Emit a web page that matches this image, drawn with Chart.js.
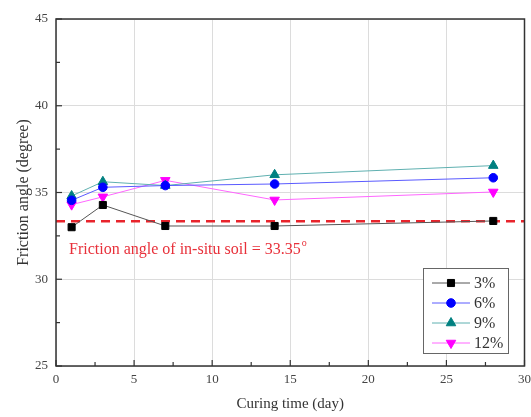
<!DOCTYPE html>
<html><head><meta charset="utf-8">
<script src="https://cdn.jsdelivr.net/npm/chart.js@4/dist/chart.umd.min.js"></script>
<style>html,body{margin:0;padding:0;background:#fff}#w{width:531px;height:417px}</style>
</head><body><div id="w"><canvas id="c" width="531" height="417"></canvas></div>
<script>
const days = [1, 3, 7, 14, 28];
const s3 = [33.0, 34.28, 33.07, 33.07, 33.36];
const s6 = [34.55, 35.3, 35.4, 35.49, 35.85];
const s9 = [34.8, 35.62, 35.4, 36.02, 36.55];
const s12 = [34.3, 34.75, 35.7, 34.57, 35.03];
const seriesNames = ['3%', '6%', '9%', '12%'];
const insituAngle = 33.35;
const xTicks = [0, 5, 10, 15, 20, 25, 30];
const yTicks = [25, 30, 35, 40, 45];

const pts = arr => days.map((d, i) => ({x: d, y: arr[i]}));
const serif = '"Liberation Serif", "Times New Roman", serif';

const ds = [
  {label: seriesNames[0], data: pts(s3), borderColor: '#555', backgroundColor: '#000', pointBorderColor: '#000', pointStyle: 'rect', pointRadius: 5, pointRotation: 0},
  {label: seriesNames[1], data: pts(s6), borderColor: '#5a5aff', backgroundColor: '#0000ff', pointBorderColor: '#0000ff', pointStyle: 'circle', pointRadius: 4.3, pointRotation: 0},
  {label: seriesNames[2], data: pts(s9), borderColor: '#5fb0b0', backgroundColor: '#008080', pointBorderColor: '#008080', pointStyle: 'triangle', pointRadius: 5.5, pointRotation: 0},
  {label: seriesNames[3], data: pts(s12), borderColor: '#ff66ff', backgroundColor: '#ff00ff', pointBorderColor: '#ff00ff', pointStyle: 'triangle', pointRadius: 5.5, pointRotation: 180}
].map(d => Object.assign(d, {borderWidth: 1, pointBorderWidth: 1, tension: 0}));

ds.push({label: 'insitu', data: [{x: 0, y: insituAngle}, {x: 30, y: insituAngle}], borderColor: '#e8242c', borderWidth: 2.5, borderDash: [9, 6], pointRadius: 0, order: 10});

const deco = {
  id: 'deco',
  afterDraw(chart) {
    const {ctx, chartArea: a, scales: {x, y}} = chart;
    ctx.save();
    ctx.strokeStyle = '#333'; ctx.lineWidth = 1.5;
    ctx.strokeRect(a.left, a.top, a.right - a.left, a.bottom - a.top);
    ctx.lineWidth = 1.2;
    for (let v = 0; v <= 30; v += 2.5) {
      const px = x.getPixelForValue(v);
      const len = (v % 5 === 0) ? 6 : 4;
      ctx.beginPath(); ctx.moveTo(px, a.bottom); ctx.lineTo(px, a.bottom - len); ctx.stroke();
    }
    for (let v = 25; v <= 45; v += 2.5) {
      const py = y.getPixelForValue(v);
      const len = (v % 5 === 0) ? 6 : 4;
      ctx.beginPath(); ctx.moveTo(a.left, py); ctx.lineTo(a.left + len, py); ctx.stroke();
    }
    ctx.fillStyle = '#e8303a';
    ctx.font = '16px ' + serif;
    ctx.textBaseline = 'alphabetic';
    const txt = 'Friction angle of in-situ soil = ' + insituAngle.toFixed(2);
    const tx = 69, ty = 254;
    ctx.fillText(txt, tx, ty);
    const w = ctx.measureText(txt).width;
    ctx.font = '10px ' + serif;
    ctx.fillText('o', tx + w + 1, ty - 8);
    const lx = 423, ly = 268, lw = 85, lh = 85;
    ctx.fillStyle = '#fff';
    ctx.fillRect(lx, ly, lw, lh);
    ctx.strokeStyle = '#666'; ctx.lineWidth = 1;
    ctx.strokeRect(lx + 0.5, ly + 0.5, lw, lh);
    const rows = [283, 303, 323, 343];
    for (let i = 0; i < 4; i++) {
      const d = ds[i];
      const ry = rows[i];
      ctx.strokeStyle = d.borderColor; ctx.lineWidth = 1;
      ctx.beginPath(); ctx.moveTo(432, ry); ctx.lineTo(470, ry); ctx.stroke();
      ctx.fillStyle = d.backgroundColor; ctx.strokeStyle = d.pointBorderColor;
      Chart.helpers.drawPoint(ctx, {pointStyle: d.pointStyle, radius: d.pointRadius, rotation: d.pointRotation, borderWidth: 1}, 451, ry);
      ctx.fillStyle = '#333';
      ctx.font = '16px ' + serif;
      ctx.textBaseline = 'middle';
      ctx.fillText(d.label, 474, ry + 1);
    }
    ctx.restore();
  }
};

new Chart(document.getElementById('c'), {
  type: 'line',
  data: {datasets: ds},
  options: {
    responsive: false,
    animation: false,
    layout: {padding: {left: 0, right: 1, top: 19, bottom: 0}},
    plugins: {legend: {display: false}, tooltip: {enabled: false}},
    scales: {
      x: {
        type: 'linear', min: 0, max: 30,
        afterBuildTicks: s => { s.ticks = xTicks.map(v => ({value: v})); },
        afterFit: s => { s.height = 51; s.paddingRight = 0; s.paddingLeft = 0; },
        grid: {color: '#dcdcdc', drawTicks: false},
        border: {display: false},
        ticks: {color: '#444', font: {family: serif, size: 13}, padding: 6, maxRotation: 0},
        title: {display: true, text: 'Curing time (day)', color: '#333', font: {family: serif, size: 15}, padding: {top: 0}}
      },
      y: {
        type: 'linear', min: 25, max: 45,
        afterBuildTicks: s => { s.ticks = yTicks.map(v => ({value: v})); },
        afterFit: s => { s.width = 56; s.paddingTop = 0; s.paddingBottom = 0; },
        grid: {color: '#dcdcdc', drawTicks: false},
        border: {display: false},
        ticks: {color: '#444', font: {family: serif, size: 13}, padding: 8},
        title: {display: true, text: 'Friction angle (degree)', color: '#333', font: {family: serif, size: 16}, padding: {top: 14, bottom: 0}}
      }
    }
  },
  plugins: [deco]
});
</script>
</body></html>
